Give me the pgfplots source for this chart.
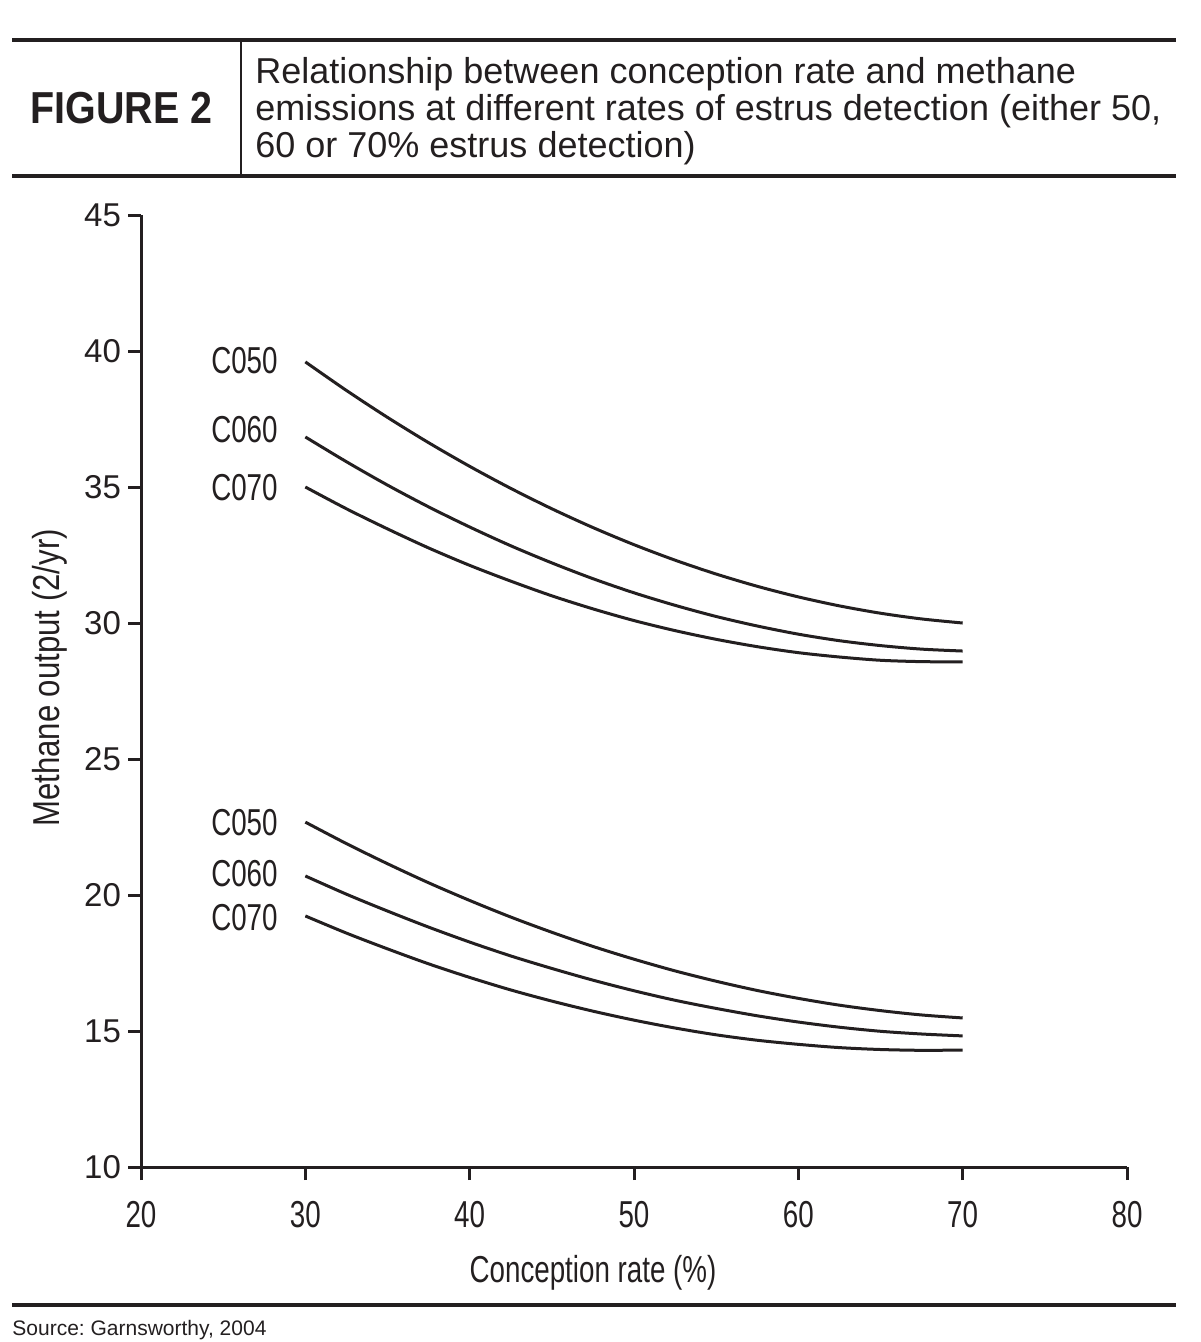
\documentclass[border=0pt]{standalone}
\usepackage{pgfplots}
\pgfplotsset{compat=1.18}
\usepackage{fontspec}
\setmainfont{Liberation Sans}
\newfontfamily\condensed[FakeStretch=0.74]{Liberation Sans}
\newfontfamily\ycond[FakeStretch=0.83]{Liberation Sans}
\newfontfamily\figfont[FakeStretch=0.88]{Liberation Sans}
\definecolor{ink}{HTML}{231F20}
\frenchspacing

\pgfplotstableread{
x y
30 39.60
32.5 38.55
35 37.56
37.5 36.63
40 35.76
42.5 34.95
45 34.20
47.5 33.51
50 32.88
52.5 32.31
55 31.80
57.5 31.35
60 30.96
62.5 30.63
65 30.36
67.5 30.15
70 30.00
}\upA
\pgfplotstableread{
x y
30 36.84
32.5 35.93
35 35.07
37.5 34.27
40 33.53
42.5 32.84
45 32.21
47.5 31.63
50 31.11
52.5 30.65
55 30.24
57.5 29.89
60 29.59
62.5 29.35
65 29.17
67.5 29.04
70 28.97
}\upB
\pgfplotstableread{
x y
30 35.00
32.5 34.20
35 33.46
37.5 32.76
40 32.12
42.5 31.54
45 31.00
47.5 30.52
50 30.09
52.5 29.72
55 29.40
57.5 29.13
60 28.91
62.5 28.75
65 28.63
67.5 28.58
70 28.57
}\upC
\pgfplotstableread{
x y
30 22.68
32.5 21.89
35 21.15
37.5 20.45
40 19.80
42.5 19.19
45 18.63
47.5 18.11
50 17.64
52.5 17.21
55 16.83
57.5 16.49
60 16.20
62.5 15.95
65 15.75
67.5 15.59
70 15.48
}\loA
\pgfplotstableread{
x y
30 20.70
32.5 20.03
35 19.41
37.5 18.82
40 18.27
42.5 17.76
45 17.30
47.5 16.87
50 16.48
52.5 16.13
55 15.83
57.5 15.56
60 15.33
62.5 15.14
65 14.99
67.5 14.89
70 14.82
}\loB
\pgfplotstableread{
x y
30 19.23
32.5 18.60
35 18.02
37.5 17.47
40 16.97
42.5 16.51
45 16.10
47.5 15.73
50 15.40
52.5 15.11
55 14.86
57.5 14.66
60 14.51
62.5 14.39
65 14.32
67.5 14.29
70 14.30
}\loC

\begin{document}
\begin{tikzpicture}
\useasboundingbox (0,0) rectangle (600pt,-671pt);
% header rules
\draw[ink, line width=2pt] (6pt,-20pt) -- (588pt,-20pt);
\draw[ink, line width=2pt] (6pt,-88pt) -- (588pt,-88pt);
\draw[ink, line width=0.9pt] (120.5pt,-20pt) -- (120.5pt,-88pt);
\draw[ink, line width=2pt] (6pt,-652.5pt) -- (588pt,-652.5pt);
% header text
\node[anchor=base west, inner sep=0pt, text=ink, font={\figfont\bfseries\fontsize{22.4pt}{26pt}\selectfont}] at (15pt,-62pt) {FIGURE 2};
\begin{scope}[every node/.style={anchor=base west, inner sep=0pt, text=ink, font={\fontsize{18pt}{22pt}\selectfont}}]
\node at (127.5pt,-42pt) {Relationship between conception rate and methane};
\node at (127.5pt,-60.5pt) {emissions at different rates of estrus detection (either 50,};
\node at (127.5pt,-79pt) {60 or 70\% estrus detection)};
\end{scope}
\node[anchor=base west, inner sep=0pt, text=ink, font={\fontsize{10.5pt}{12pt}\selectfont}] at (6pt,-667.5pt) {Source: Garnsworthy, 2004};

\begin{axis}[
  at={(70.5pt,-583.5pt)}, anchor=south west,
  scale only axis, width=493pt, height=476pt,
  xmin=20, xmax=80, ymin=10, ymax=45,
  xtick={20,30,...,80}, ytick={10,15,...,45},
  axis x line=bottom, axis y line=left,
  axis line style={-, line width=1.5pt, ink},
  tick style={line width=1.5pt, ink},
  tick align=outside, major tick length=6.5pt,
  /pgf/number format/assume math mode=true,
  xticklabel style={font={\condensed\fontsize{18.75pt}{22pt}\selectfont}, text=ink, yshift=-7pt},
  yticklabel style={font={\fontsize{16.5pt}{19pt}\selectfont}, text=ink, xshift=0pt},
  clip=false,
]
\addplot[smooth, line width=1.5pt, ink] table {\upA};
\addplot[smooth, line width=1.5pt, ink] table {\upB};
\addplot[smooth, line width=1.5pt, ink] table {\upC};
\addplot[smooth, line width=1.5pt, ink] table {\loA};
\addplot[smooth, line width=1.5pt, ink] table {\loB};
\addplot[smooth, line width=1.5pt, ink] table {\loC};
\end{axis}

% axis labels
\node[text=ink, inner sep=0pt, font={\condensed\fontsize{18.75pt}{22pt}\selectfont}] at (296.5pt,-636.5pt) {Conception rate (\%)};
\node[text=ink, inner sep=0pt, rotate=90, font={\ycond\fontsize{18.75pt}{22pt}\selectfont}] at (25pt,-339pt) {Methane output (2/yr)};
% curve labels
\begin{scope}[every node/.style={anchor=east, inner sep=0pt, text=ink, font={\condensed\fontsize{18.75pt}{22pt}\selectfont}}]
\node at (139pt,-180.5pt) {C050};
\node at (139pt,-215pt) {C060};
\node at (139pt,-244pt) {C070};
\node at (139pt,-411.5pt) {C050};
\node at (139pt,-437pt) {C060};
\node at (139pt,-459pt) {C070};
\end{scope}
\end{tikzpicture}
\end{document}
